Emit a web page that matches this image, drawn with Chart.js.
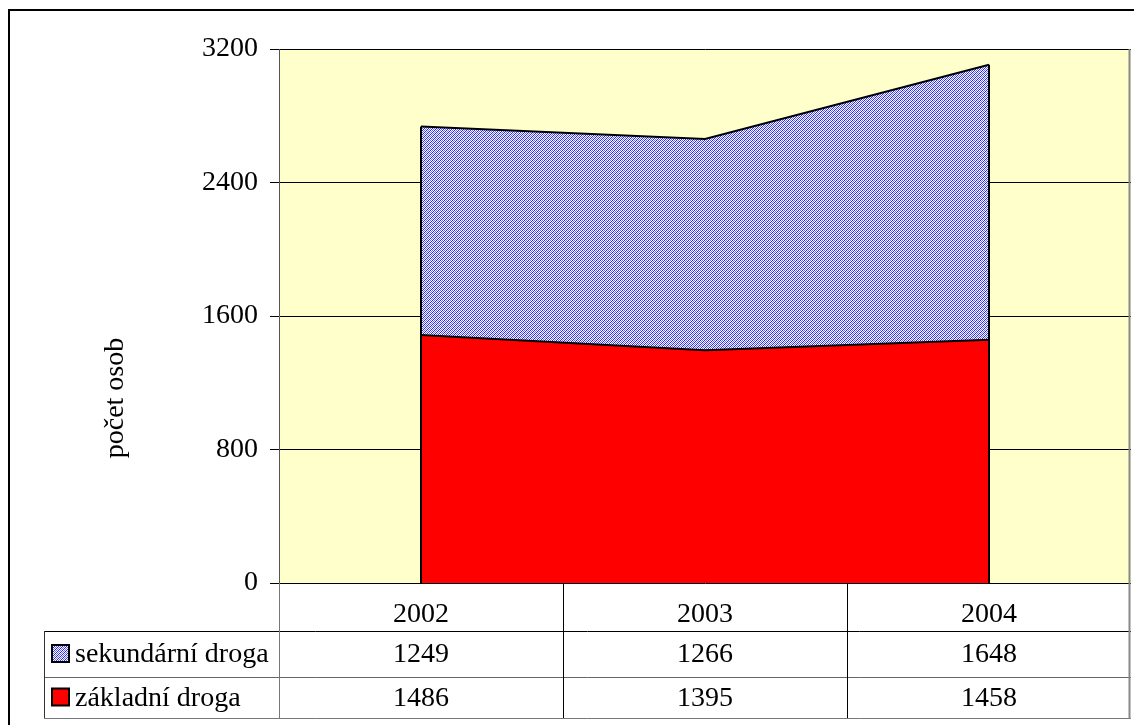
<!DOCTYPE html>
<html>
<head>
<meta charset="utf-8">
<script src="https://cdn.jsdelivr.net/npm/chart.js@4"></script>
<style>
  html, body { margin: 0; padding: 0; background: #fff; }
  #wrap { width: 1134px; height: 725px; position: relative; }
</style>
</head>
<body>
<div id="wrap"><canvas id="areaDroga"></canvas></div>
<script>
const years = ['2002', '2003', '2004'];
const zakladni = [1486, 1395, 1458];
const sekundarni = [1249, 1266, 1648];
const yTicks = [0, 800, 1600, 2400, 3200];
const seriesNames = ['sekundární droga', 'základní droga'];
const yTitle = 'počet osob';

const FONT = '"Liberation Serif", "Times New Roman", serif';
const FSIZE = 28;

// šrafovaná výplň pro sekundární drogu (jemná šachovnice s diagonálou)
function makeHatch() {
  const c = document.createElement('canvas');
  c.width = 4; c.height = 4;
  const g = c.getContext('2d');
  g.fillStyle = '#ffffff';
  g.fillRect(0, 0, 4, 4);
  for (let yy = 0; yy < 4; yy++) {
    for (let xx = 0; xx < 4; xx++) {
      const s = (xx + yy) % 4;
      if (s === 0) { g.fillStyle = '#2323ff'; g.fillRect(xx, yy, 1, 1); }
      if (s === 2) { g.fillStyle = '#6a6aff'; g.fillRect(xx, yy, 1, 1); }
    }
  }
  return g.createPattern(c, 'repeat');
}
const hatch = makeHatch();

// pozadí, svislé hrany, tabulka s daty a legenda
const tablePlugin = {
  id: 'tablePlugin',
  beforeDraw(chart) {
    const { ctx, chartArea: a } = chart;
    ctx.save();
    ctx.fillStyle = '#ffffcc';
    ctx.fillRect(a.left, a.top, a.right - a.left, a.bottom - a.top);
    ctx.restore();
  },
  afterDatasetsDraw(chart) {
    const { ctx, scales: { x, y } } = chart;
    ctx.save();
    ctx.strokeStyle = '#000';
    ctx.lineWidth = 2;
    [0, years.length - 1].forEach(i => {
      const px = x.getPixelForValue(i);
      ctx.beginPath();
      ctx.moveTo(px, y.getPixelForValue(0));
      ctx.lineTo(px, y.getPixelForValue(zakladni[i] + sekundarni[i]));
      ctx.stroke();
    });
    ctx.restore();
  },
  afterDraw(chart) {
    const { ctx, chartArea: a, scales: { x } } = chart;
    const r1 = a.bottom + 48, r2 = a.bottom + 94, r3 = a.bottom + 135;
    const legLeft = 44;
    const half = (x.getPixelForValue(1) - x.getPixelForValue(0)) / 2;

    ctx.save();
    // vnější rámeček
    ctx.strokeStyle = '#000';
    ctx.lineWidth = 2;
    ctx.strokeRect(9, 10, 1200, 800);

    ctx.lineWidth = 1;
    const hline = (yy, x1, x2, col) => {
      ctx.strokeStyle = col;
      ctx.beginPath(); ctx.moveTo(x1, yy + 0.5); ctx.lineTo(x2, yy + 0.5); ctx.stroke();
    };
    const vline = (xx, y1, y2, col) => {
      ctx.strokeStyle = col;
      ctx.beginPath(); ctx.moveTo(xx + 0.5, y1); ctx.lineTo(xx + 0.5, y2); ctx.stroke();
    };
    hline(r1, legLeft, a.right, '#000');
    hline(r2, legLeft, a.right, '#666');
    hline(r3, legLeft, a.right, '#777');
    vline(legLeft, r1, r3, '#333');
    vline(Math.round(a.left), a.bottom, r3, '#777');
    for (let i = 1; i < years.length; i++) {
      vline(Math.round(x.getPixelForValue(i) - half), a.bottom, r3, '#000');
    }
    ctx.lineWidth = 2;
    vline(Math.round(a.right) - 2, a.top, r3 + 1, '#888');

    // hodnoty
    ctx.fillStyle = '#000';
    ctx.font = FSIZE + 'px ' + FONT;
    ctx.textAlign = 'center';
    ctx.textBaseline = 'middle';
    const rows = [[sekundarni, (r1 + r2) / 2], [zakladni, (r2 + r3) / 2]];
    rows.forEach(([vals, cy]) => {
      vals.forEach((v, i) => ctx.fillText(String(v), x.getPixelForValue(i), cy + 1));
    });

    // legenda v tabulce
    ctx.textAlign = 'left';
    const fills = [hatch, '#ff0000'];
    rows.forEach(([, cy], k) => {
      ctx.fillStyle = fills[k];
      ctx.fillRect(52, cy - 9, 17, 17);
      ctx.lineWidth = 2;
      ctx.strokeStyle = '#000';
      ctx.strokeRect(52, cy - 9, 17, 17);
      ctx.fillStyle = '#000';
      ctx.fillText(seriesNames[k], 75, cy + 1);
    });

    // popisek osy y
    ctx.translate(116, 398);
    ctx.rotate(-Math.PI / 2);
    ctx.textAlign = 'center';
    ctx.fillText(yTitle, 0, 0);
    ctx.restore();
  }
};

const ctx = document.getElementById('areaDroga').getContext('2d');
new Chart(ctx, {
  type: 'line',
  data: {
    labels: years,
    datasets: [
      {
        label: seriesNames[1],
        data: zakladni,
        backgroundColor: '#ff0000',
        borderColor: '#000',
        borderWidth: 2,
        pointRadius: 0,
        tension: 0,
        fill: 'origin'
      },
      {
        label: seriesNames[0],
        data: sekundarni,
        backgroundColor: hatch,
        borderColor: '#000',
        borderWidth: 2,
        pointRadius: 0,
        tension: 0,
        fill: '-1'
      }
    ]
  },
  options: {
    responsive: true,
    maintainAspectRatio: false,
    animation: false,
    layout: { padding: { top: 49, right: 3, bottom: 7, left: 0 } },
    scales: {
      x: {
        offset: true,
        afterFit(s) { s.height = 135; },
        grid: { display: false },
        border: { display: false },
        ticks: { color: '#000', padding: 7, font: { family: FONT, size: FSIZE } }
      },
      y: {
        stacked: true,
        min: yTicks[0],
        max: yTicks[yTicks.length - 1],
        afterFit(s) { s.width = 279; },
        afterBuildTicks(s) { s.ticks = yTicks.map(v => ({ value: v })); },
        grid: { color: '#000', lineWidth: 1, tickLength: 9, tickColor: '#000' },
        border: { color: '#555', width: 1 },
        ticks: {
          color: '#000',
          padding: 12,
          font: { family: FONT, size: FSIZE },
          callback: v => String(v)
        }
      }
    },
    plugins: {
      legend: { display: false },
      tooltip: { enabled: false }
    }
  },
  plugins: [tablePlugin]
});
</script>
</body>
</html>
